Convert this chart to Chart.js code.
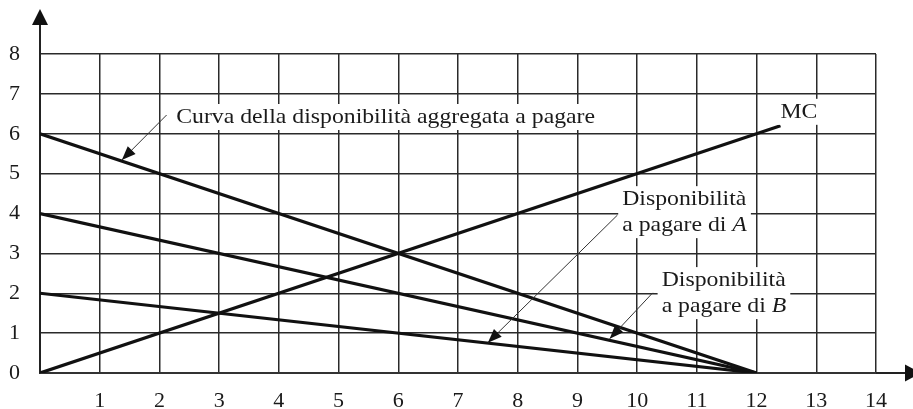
<!DOCTYPE html>
<html>
<head>
<meta charset="utf-8">
<script src="https://cdn.jsdelivr.net/npm/chart.js@4"></script>
<style>
  html, body { margin: 0; padding: 0; background: #ffffff; }
  #wrap { width: 913px; height: 409px; }
</style>
</head>
<body>
<div id="wrap"><canvas id="chart"></canvas></div>
<script>
// quantity at the two ends of each straight line
const quantity = [0, 12];
const aggregateWTP = [6, 0];
const wtpA = [4, 0];
const wtpB = [2, 0];
const mcQuantity = [0, 12.4];
const marginalCost = [0, 6.2];

const xTickValues = [0, 1, 2, 3, 4, 5, 6, 7, 8, 9, 10, 11, 12, 13, 14];
const yTickValues = [0, 1, 2, 3, 4, 5, 6, 7, 8];

const serif = "'Liberation Serif', 'Times New Roman', serif";
const ink = '#1a1a1a';

function toPoints(xs, ys) {
  return xs.map((x, i) => ({ x: x, y: ys[i] }));
}

function lineSet(label, xs, ys) {
  return {
    label: label,
    data: toPoints(xs, ys),
    showLine: true,
    borderColor: '#111111',
    borderWidth: 3.2,
    pointRadius: 0,
    fill: false
  };
}

// labels and pointer arrows, placed in data units
const notes = [
  { lines: [['Curva della disponibilità aggregata a pagare']], x: 2.28, y: 6.42,
    from: [2.12, 6.47], to: [1.37, 5.34] },
  { lines: [['MC']], x: 12.40, y: 6.55 },
  { lines: [['Disponibilità'], ['a pagare di ', 'A']], x: 9.75, y: 4.36,
    from: [9.67, 3.96], to: [7.50, 0.76] },
  { lines: [['Disponibilità'], ['a pagare di ', 'B']], x: 10.41, y: 2.33,
    from: [10.26, 2.01], to: [9.54, 0.86] }
];

function arrowHead(ctx, x1, y1, x2, y2, len, half) {
  const a = Math.atan2(y2 - y1, x2 - x1);
  ctx.beginPath();
  ctx.moveTo(x2, y2);
  ctx.lineTo(x2 - len * Math.cos(a) + half * Math.sin(a), y2 - len * Math.sin(a) - half * Math.cos(a));
  ctx.lineTo(x2 - len * Math.cos(a) - half * Math.sin(a), y2 - len * Math.sin(a) + half * Math.cos(a));
  ctx.closePath();
  ctx.fill();
}

const decorPlugin = {
  id: 'decor',
  afterDraw(chart) {
    const ctx = chart.ctx;
    const xs = chart.scales.x, ys = chart.scales.y;
    const ox = xs.getPixelForValue(0), oy = ys.getPixelForValue(0);
    ctx.save();
    ctx.fillStyle = '#111';
    ctx.strokeStyle = '#222';
    ctx.lineWidth = 2;
    // axis extensions + arrow heads
    ctx.beginPath();
    ctx.moveTo(ox, ys.top); ctx.lineTo(ox, 22);
    ctx.moveTo(xs.right, oy); ctx.lineTo(chart.width - 6, oy);
    ctx.stroke();
    arrowHead(ctx, ox, 40, ox, 9, 16, 8);
    arrowHead(ctx, chart.width - 30, oy, chart.width + 8, oy, 16, 8.5);

    const sx = 1.08, size = 22, lineGap = 26;
    notes.forEach(n => {
      const px = xs.getPixelForValue(n.x), py = ys.getPixelForValue(n.y);
      let maxW = 0;
      n.lines.forEach(parts => {
        let w = 0;
        parts.forEach((p, i) => {
          ctx.font = (i === 1 ? 'italic ' : '') + size + 'px ' + serif;
          w += ctx.measureText(p).width * sx;
        });
        maxW = Math.max(maxW, w);
      });
      const h = n.lines.length * lineGap;
      ctx.fillStyle = '#ffffff';
      ctx.fillRect(px - 4, py - lineGap / 2, maxW + 8, h);
      ctx.fillStyle = ink;
      ctx.textBaseline = 'middle';
      n.lines.forEach((parts, li) => {
        let cx = px;
        const cy = py + li * lineGap;
        parts.forEach((p, i) => {
          ctx.font = (i === 1 ? 'italic ' : '') + size + 'px ' + serif;
          ctx.save();
          ctx.translate(cx, cy);
          ctx.scale(sx, 1);
          ctx.fillText(p, 0, 0);
          ctx.restore();
          cx += ctx.measureText(p).width * sx;
        });
      });
      if (n.from) {
        const x1 = xs.getPixelForValue(n.from[0]), y1 = ys.getPixelForValue(n.from[1]);
        const x2 = xs.getPixelForValue(n.to[0]), y2 = ys.getPixelForValue(n.to[1]);
        ctx.strokeStyle = '#333';
        ctx.lineWidth = 1;
        ctx.beginPath();
        ctx.moveTo(x1, y1); ctx.lineTo(x2, y2);
        ctx.stroke();
        ctx.fillStyle = '#111';
        arrowHead(ctx, x1, y1, x2, y2, 14, 5.5);
      }
    });
    ctx.restore();
  }
};

new Chart(document.getElementById('chart'), {
  type: 'scatter',
  data: {
    datasets: [
      lineSet('Disponibilità aggregata', quantity, aggregateWTP),
      lineSet('Disponibilità A', quantity, wtpA),
      lineSet('Disponibilità B', quantity, wtpB),
      lineSet('MC', mcQuantity, marginalCost)
    ]
  },
  options: {
    responsive: true,
    maintainAspectRatio: false,
    animation: false,
    layout: { padding: { top: 54, right: 37, left: 0, bottom: 0 } },
    plugins: {
      legend: { display: false },
      tooltip: { enabled: false }
    },
    scales: {
      x: {
        type: 'linear',
        min: xTickValues[0],
        max: xTickValues[xTickValues.length - 1],
        afterBuildTicks: axis => { axis.ticks = xTickValues.map(v => ({ value: v })); },
        afterFit: axis => { axis.height = 36; },
        ticks: {
          callback: v => (v === 0 ? '' : v),
          color: ink,
          font: { family: serif, size: 22 },
          padding: 15,
          maxRotation: 0,
          autoSkip: false
        },
        grid: { color: '#2a2a2a', lineWidth: 1.5, drawTicks: false },
        border: { color: '#333', width: 2 }
      },
      y: {
        type: 'linear',
        min: yTickValues[0],
        max: yTickValues[yTickValues.length - 1],
        afterBuildTicks: axis => { axis.ticks = yTickValues.map(v => ({ value: v })); },
        afterFit: axis => { axis.width = 40; },
        ticks: {
          color: ink,
          font: { family: serif, size: 22 },
          padding: 20,
          autoSkip: false
        },
        grid: { color: '#2a2a2a', lineWidth: 1.5, drawTicks: false },
        border: { color: '#222', width: 2 }
      }
    }
  },
  plugins: [decorPlugin]
});
</script>
</body>
</html>
